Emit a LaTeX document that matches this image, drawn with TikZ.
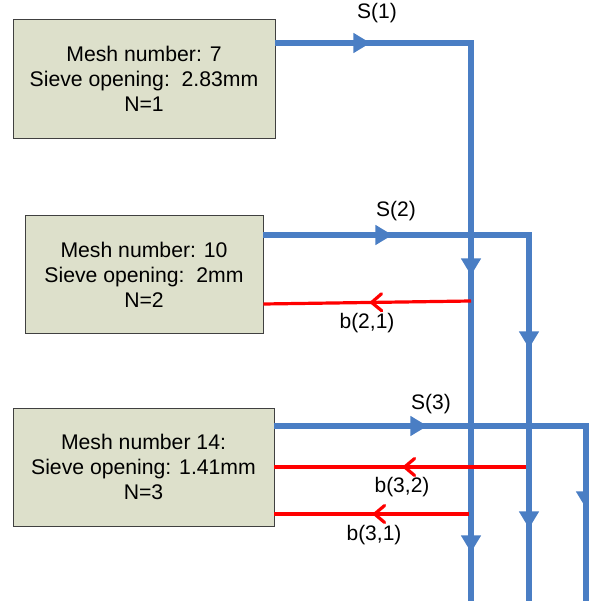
\documentclass[tikz,border=0pt]{standalone}
\usepackage{fontspec}
\setmainfont{Liberation Sans}
\usetikzlibrary{arrows.meta,decorations.markings}
\definecolor{flowblue}{HTML}{4A7EC4}
\definecolor{boxfill}{HTML}{DDE0CB}
\definecolor{boxline}{HTML}{404040}
\definecolor{backred}{HTML}{FF0000}
\begin{document}
\begin{tikzpicture}[x=1pt,y=-1pt,
  sieve/.style={draw=boxline, fill=boxfill, line width=0.9pt, align=center,
    font=\fontsize{21.2}{25}\selectfont, inner sep=0pt},
  lbl/.style={font=\fontsize{21}{25}\selectfont, inner sep=0pt},
  flow/.style={draw=flowblue, line width=5.5pt, line join=miter},
  back/.style={draw=backred, line width=3.2pt},
  bluetip/.tip={Triangle[length=17pt,width=19pt]},
  redtip/.tip={Straight Barb[length=10pt,width=17pt,round]}]
\useasboundingbox (0,0) rectangle (588,601);

% boxes
\node[sieve, minimum width=262pt, minimum height=119pt] (box1) at (144,78.5)
  {Mesh number: 7\\Sieve opening:\ \ 2.83mm\\N=1};
\node[sieve, minimum width=238pt, minimum height=118pt] (box2) at (144,274.5)
  {Mesh number: 10\\Sieve opening:\ \ 2mm\\N=2};
\node[sieve, minimum width=261pt, minimum height=118pt] (box3) at (143.5,467)
  {Mesh number 14:\\Sieve opening: 1.41mm\\N=3};

% corner and end coordinates
\coordinate (c1) at (471,43);  \coordinate (e1) at (471,601);
\coordinate (c2) at (529,235); \coordinate (e2) at (529,601);
\coordinate (c3) at (586,426); \coordinate (e3) at (586,601);
\coordinate (r21) at (471,301); \coordinate (l21) at (263,304);
\coordinate (r32) at (526,467); \coordinate (l32) at (274,467);
\coordinate (r31) at (469,514); \coordinate (l31) at (274,514);

% blue streams
\draw[flow, decoration={markings,
    mark=at position 95pt with {\arrow{bluetip}},
    mark=at position 428pt with {\arrow{bluetip}},
    mark=at position 705pt with {\arrow{bluetip}}}, postaction={decorate}]
  (box1.east |- c1) -- (c1) -- (e1);
\draw[flow, decoration={markings,
    mark=at position 129pt with {\arrow{bluetip}},
    mark=at position 379pt with {\arrow{bluetip}},
    mark=at position 559pt with {\arrow{bluetip}}}, postaction={decorate}]
  (box2.east |- c2) -- (c2) -- (e2);
\draw[flow, decoration={markings,
    mark=at position 153pt with {\arrow{bluetip}},
    mark=at position 394pt with {\arrow{bluetip}}}, postaction={decorate}]
  (box3.east |- c3) -- (c3) -- (e3);

% red back streams
\draw[back, decoration={markings, mark=at position 101pt with {\arrow{redtip}}},
  postaction={decorate}] (r21) -- (box2.east |- l21);
\draw[back, decoration={markings, mark=at position 123pt with {\arrow{redtip}}},
  postaction={decorate}] (r32) -- (box3.east |- l32);
\draw[back, decoration={markings, mark=at position 96pt with {\arrow{redtip}}},
  postaction={decorate}] (r31) -- (box3.east |- l31);

% labels
\node[lbl] (s1) at (377,13) {S(1)};
\node[lbl] (s2) at (396,211) {S(2)};
\node[lbl] (s3) at (431,404) {S(3)};
\node[lbl] (b21) at (367,323) {b(2,1)};
\node[lbl] (b32) at (402,487) {b(3,2)};
\node[lbl] (b31) at (374,535) {b(3,1)};
\end{tikzpicture}
\end{document}
